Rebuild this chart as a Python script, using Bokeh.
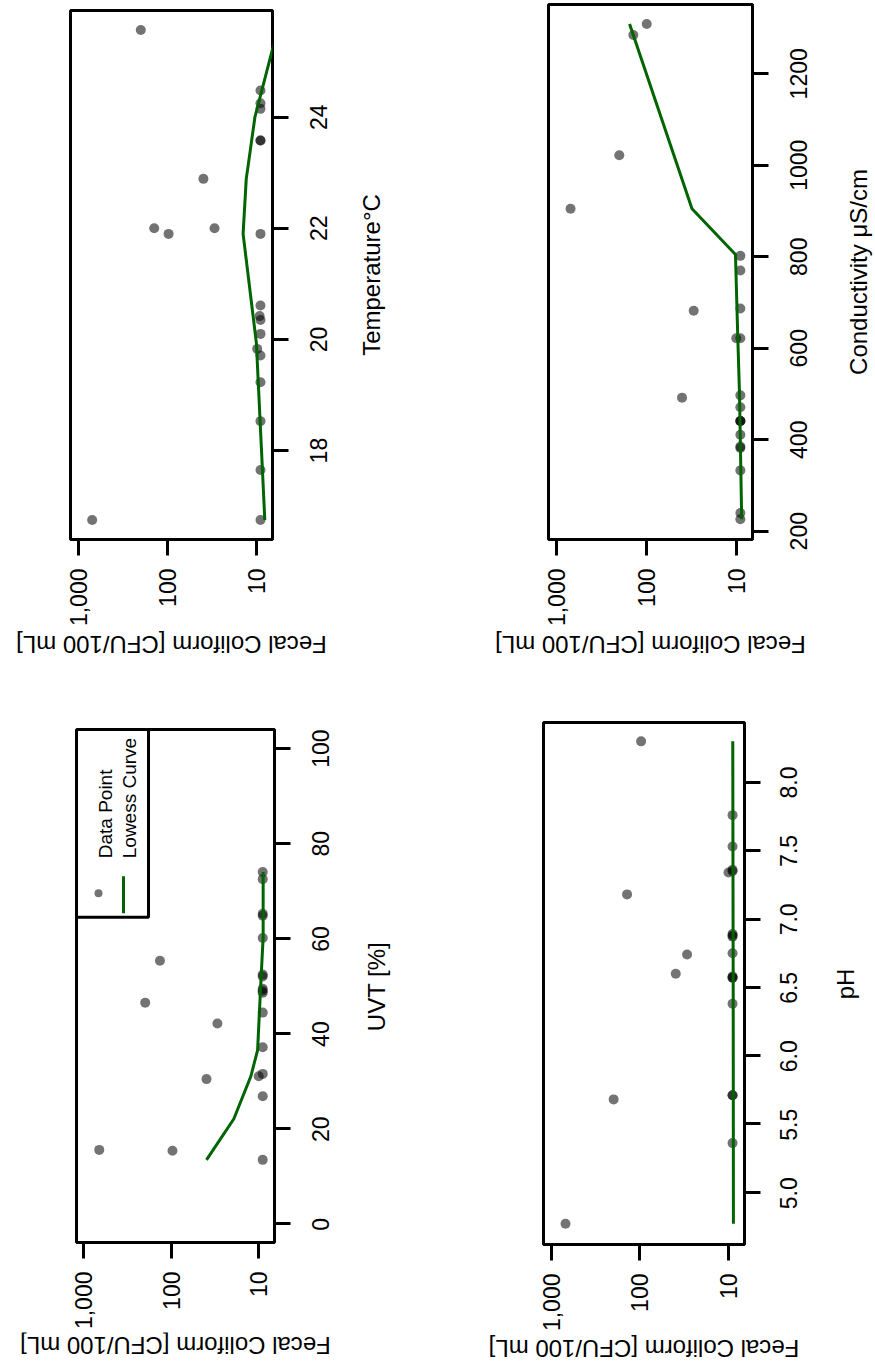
import math
from bokeh.plotting import figure
from bokeh.layouts import row, column
from bokeh.models import (Range1d, FixedTicker, NumeralTickFormatter, BoxAnnotation, Label,
                          CustomJSTickFormatter, ColumnDataSource)
from bokeh.core.properties import value
from bokeh.embed import file_html
from bokeh.resources import INLINE

# ---------------- data ----------------
fc_ticks = [10, 100, 1000]

temp_c = [16.75, 16.75, 17.65, 18.53, 19.23, 19.71, 19.83, 20.10, 20.35, 20.42, 20.61,
          21.90, 21.90, 22.00, 22.00, 22.89, 23.58, 23.58, 24.15, 24.25, 24.48, 25.57]
temp_fc = [695, 9, 9, 9, 9, 9, 9.8, 9, 9, 9.2, 9,
           9, 96.6, 140, 29.5, 39.3, 9, 9, 9, 9, 9, 198]
temp_lw_c = [16.75, 18.06, 19.93, 21.90, 22.89, 23.20, 24.00, 25.57]
temp_lw_fc = [8.05, 8.8, 10.0, 14.1, 13.0, 12.2, 10.4, 5.8]
temp_ticks = [18, 20, 22, 24]
temp_tick_labels = ["18", "20", "22", "24"]

uvt_pct = [15.5, 15.3, 13.4, 30.4, 26.8, 31.0, 31.5, 37.1, 42.1, 44.4, 46.5,
           48.6, 49.0, 49.4, 52.0, 52.4, 55.3, 60.1, 64.8, 65.2, 72.5, 74.0]
uvt_fc = [668, 97, 9, 39.6, 9, 10, 9, 9, 29.7, 9, 199,
          9, 9, 9, 9, 9, 135, 9, 9, 9, 9, 9]
uvt_lw_pct = [13.4, 22.0, 31.0, 36.5, 50.0, 60.3, 74.0]
uvt_lw_fc = [39.6, 19.3, 12.3, 10.3, 9.5, 8.9, 8.9]
uvt_ticks = [0, 20, 40, 60, 80, 100]
uvt_tick_labels = ["0", "20", "40", "60", "80", "100"]

cond_us = [1309, 1285, 1022, 905, 802, 770, 687, 682, 622, 622, 492,
           497, 471, 441, 441, 441, 411, 382, 385, 333, 240, 226]
cond_fc = [98.6, 139, 199, 692, 9, 9, 9, 29.7, 10, 9, 40,
           9, 9, 9, 9, 9, 9, 9, 9, 9, 9, 9]
cond_lw_us = [226, 500, 620, 805, 905, 1309]
cond_lw_fc = [8.7, 9.2, 9.6, 10.2, 31, 153]
cond_ticks = [200, 400, 600, 800, 1000, 1200]
cond_tick_labels = ["200", "400", "600", "800", "1000", "1200"]

ph_val = [4.77, 5.36, 5.68, 5.71, 5.71, 6.38, 6.57, 6.57, 6.58, 6.60, 6.74,
          6.75, 6.87, 6.88, 6.89, 7.18, 7.34, 7.35, 7.36, 7.53, 7.76, 8.30]
ph_fc = [687, 9, 197, 9, 9, 9, 9, 9, 9, 39.3, 29.3,
         9, 9, 9, 9, 139, 10, 9, 9, 9, 9, 96.6]
ph_lw_val = [4.77, 6.50, 8.30]
ph_lw_fc = [8.8, 8.85, 8.95]
ph_ticks = [5.0, 5.5, 6.0, 6.5, 7.0, 7.5, 8.0]
ph_tick_labels = ["5.0", "5.5", "6.0", "6.5", "7.0", "7.5", "8.0"]

legend_labels = ["Data Point", "Lowess Curve"]
fc_label = "Fecal Coliform [CFU/100 mL]"

# ---------------- styling ----------------
FONT = "Liberation Sans"
GREEN = "#006400"
FC_HI, FC_LO = 1216.0, 6.6
LHI, LLO = math.log10(FC_HI), math.log10(FC_LO)
BR = 20  # right border of a panel (tick marks only)


def bare(width, height, xr, yr):
    f = figure(width=width, height=height, x_range=xr, y_range=yr,
               x_axis_location=None, y_axis_location=None,
               output_backend="svg", toolbar_location=None,
               min_border_left=0, min_border_right=0,
               min_border_top=0, min_border_bottom=0)
    f.grid.visible = False
    f.outline_line_color = None
    f.background_fill_color = "white"
    f.border_fill_color = "white"
    return f


def make_panel(xv, fc, lwx, lwfc, ylo, yhi, ticks, tick_labels, label,
               bl, fw, bt, fh, bb, strip_w, tick_base, label_base,
               lab_h, lab_y):
    p = figure(width=bl + fw + BR, height=bt + fh + bb,
               x_axis_type="log", x_range=Range1d(FC_HI, FC_LO),
               y_range=Range1d(ylo, yhi), y_axis_location="right",
               output_backend="svg", toolbar_location=None,
               min_border_left=bl, min_border_right=BR,
               min_border_top=bt, min_border_bottom=bb)
    p.grid.visible = False
    p.outline_line_color = "black"
    p.outline_line_width = 3
    p.outline_line_alpha = 1.0
    p.background_fill_color = "white"
    p.border_fill_color = "white"

    for ax in (p.xaxis[0], p.yaxis[0]):
        ax.major_tick_out = 16
        ax.major_tick_in = 0
        ax.major_tick_line_width = 3
        ax.major_tick_line_color = "black"
        ax.minor_tick_line_color = None
        ax.axis_line_color = None
        ax.major_label_text_font = FONT
        ax.major_label_text_color = "black"

    xa = p.xaxis[0]
    xa.ticker = FixedTicker(ticks=fc_ticks, minor_ticks=[])
    xa.formatter = NumeralTickFormatter(format="0,0")
    xa.major_label_text_font_size = "23px"
    xa.major_label_orientation = math.pi / 2
    xa.major_label_standoff = 13

    ya = p.yaxis[0]
    ya.ticker = FixedTicker(ticks=ticks, minor_ticks=[])
    ya.formatter = CustomJSTickFormatter(code="return ''")
    ya.major_label_text_font_size = "0px"
    ya.major_label_standoff = 0

    p.scatter(x=fc, y=xv, size=10, fill_color="black", fill_alpha=0.55,
              line_color=None)
    p.line(x=lwfc, y=lwx, line_color=GREEN, line_width=3)

    # right strip: tick labels + axis label, read bottom-to-top
    upp = (yhi - ylo) / fh
    s = bare(strip_w, bt + fh + bb, Range1d(0, strip_w),
             Range1d(ylo - bb * upp, yhi + bt * upp))
    src = ColumnDataSource(dict(y=ticks, t=tick_labels))
    s.text(x=tick_base, y="y", text="t", source=src, angle=math.pi / 2,
           text_align="center", text_baseline="alphabetic",
           text_font=value(FONT), text_font_size="23px", text_color="black")
    s.add_layout(Label(x=label_base, y=(ylo + yhi) / 2, text=label, angle=math.pi / 2,
                       text_align="center", text_baseline="alphabetic",
                       text_font=FONT, text_font_size="24px", text_color="black"))

    # bottom strip: upside-down y label (the chart is a rotated R plot)
    tw = bl + fw + BR + strip_w
    b = bare(tw, lab_h, Range1d(0, tw), Range1d(0, lab_h))
    b.add_layout(Label(x=bl + fw / 2, y=lab_y, text=fc_label, angle=math.pi,
                       text_align="center", text_baseline="middle",
                       text_font=FONT, text_font_size="24px", text_color="black"))
    return p, column(row(p, column(s)), b)


p_temp, c_temp = make_panel(temp_c, temp_fc, temp_lw_c, temp_lw_fc, 16.40, 25.92,
                            temp_ticks, temp_tick_labels, "Temperature°C",
                            70, 202, 10, 529, 91, 148, 25.5, 79, 50, 36)
p_cond, c_cond = make_panel(cond_us, cond_fc, cond_lw_us, cond_lw_fc, 181.9, 1351.5,
                            cond_ticks, cond_tick_labels, "Conductivity μS/cm",
                            108, 204, 4, 535, 91, 103, 25.5, 86, 50, 36)
p_uvt, c_uvt = make_panel(uvt_pct, uvt_fc, uvt_lw_pct, uvt_lw_fc, -4.0, 104.0,
                          uvt_ticks, uvt_tick_labels, "UVT [%]",
                          76, 198, 49, 514, 89, 146, 25.5, 82, 32, 19)
p_ph, c_ph = make_panel(ph_val, ph_fc, ph_lw_val, ph_lw_fc, 4.618, 8.438,
                        ph_ticks, ph_tick_labels, "pH",
                        103, 201, 42, 523, 89, 111, 23.5, 81, 30, 16)

# ---------------- legend (UVT panel, drawn rotated) ----------------
U_FW, U_FH, U_YLO, U_YHI = 198, 514, -4.0, 104.0


def lx(px):  # pixels from frame left -> data
    return 10 ** (LHI - px / U_FW * (LHI - LLO))


def ly(py):  # pixels from frame top -> data
    return U_YHI - py / U_FH * (U_YHI - U_YLO)


p_uvt.add_layout(BoxAnnotation(left=FC_HI, right=lx(72), top=U_YHI, bottom=ly(188),
                               fill_color="white", fill_alpha=0.0,
                               line_color="black", line_width=3, line_alpha=1.0,
                               level="overlay"))
p_uvt.add_layout(BoxAnnotation(left=lx(18), right=lx(26), top=ly(160), bottom=ly(168),
                               fill_color="black", fill_alpha=0.55, line_color=None,
                               border_radius=4, level="overlay"))
p_uvt.add_layout(BoxAnnotation(left=lx(45.5), right=lx(48.5), top=ly(147), bottom=ly(184),
                               fill_color=GREEN, fill_alpha=1.0, line_color=None,
                               level="overlay"))
for txt, px in zip(legend_labels, [29, 53]):
    p_uvt.add_layout(Label(x=lx(px), y=ly(129), text=txt, angle=math.pi / 2,
                           text_align="left", text_baseline="alphabetic",
                           text_font=FONT, text_font_size="19px",
                           text_color="black"))

layout = column(row(c_temp, c_cond), row(c_uvt, c_ph))
open("out.html", "w").write(file_html(layout, INLINE))
